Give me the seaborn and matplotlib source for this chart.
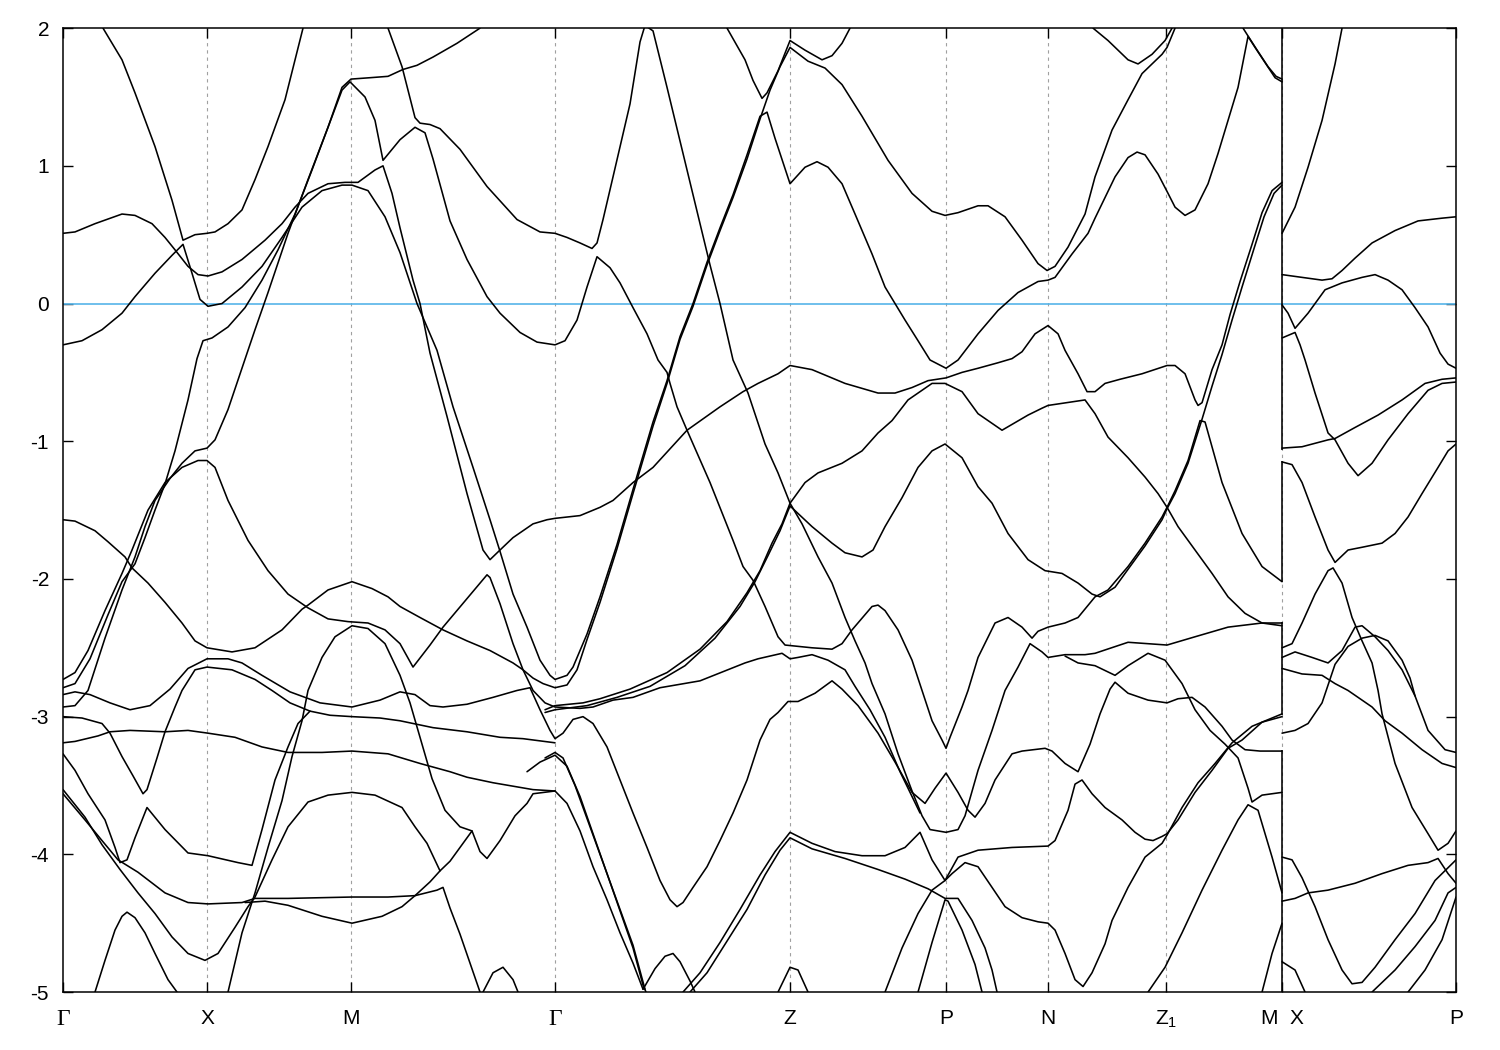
import matplotlib
matplotlib.use("Agg")
import matplotlib.pyplot as plt
import pandas as pd
import seaborn as sns

# ---------------- data ----------------
# k-path coordinate (arbitrary path units) of the high-symmetry points
k_ticks = [63, 207, 351, 555, 790, 946, 1048, 1166, 1282, 1456]
k_labels = ['Γ', 'X', 'M', 'Γ', 'Z', 'P', 'N', 'Z$_1$', 'M  X', 'P']
k_break = 1282
# energy spans of the band jumps drawn at the M|X discontinuity
break_jumps = [(2.0, -1.06), (-1.14, -2.02), (-2.31, -2.99), (-3.24, -5.0)]
e_ticks = [-5, -4, -3, -2, -1, 0, 1, 2]
fermi = 0.0

# bands as (k, E[eV]) pairs
band_01 = [(103,2.00),(122,1.77),(135,1.53),(155,1.14),(172,0.75),(183,0.46),(195,0.50),(207,0.51),(215,0.52),(228,0.58),(242,0.68),(255,0.90),(268,1.14),(285,1.48),(303,2.00)]
band_02 = [(63,0.51),(75,0.52),(95,0.58),(122,0.65),(135,0.64),(152,0.58),(165,0.48),(175,0.39),(188,0.27),(198,0.21),(208,0.20),(222,0.23),(242,0.32),(265,0.46),(282,0.58),(295,0.70),(308,0.80),(328,0.87),(345,0.88),(358,0.88),(375,0.97),(383,1.00),(392,0.80),(400,0.55),(413,0.17),(420,0.00),(430,-0.36),(447,-0.82),(467,-1.38),(483,-1.79),(490,-1.86),(500,-1.79),(513,-1.70),(533,-1.60),(547,-1.57),(555,-1.56),(580,-1.54),(600,-1.48),(613,-1.43),(633,-1.30),(653,-1.19),(687,-0.92),(720,-0.75),(743,-0.64),(758,-0.58),(778,-0.51),(790,-0.45),(812,-0.48),(845,-0.58),(878,-0.65),(895,-0.65),(912,-0.61),(928,-0.56),(946,-0.54),(962,-0.50),(978,-0.47),(998,-0.43),(1012,-0.40),(1022,-0.35),(1035,-0.22),(1048,-0.16),(1058,-0.22),(1065,-0.34),(1078,-0.51),(1087,-0.64),(1095,-0.64),(1105,-0.58),(1120,-0.55),(1142,-0.51),(1167,-0.45),(1175,-0.45),(1185,-0.51),(1195,-0.70),(1198,-0.74),(1202,-0.72),(1212,-0.48),(1222,-0.30),(1230,-0.08),(1240,0.16),(1252,0.43),(1262,0.66),(1272,0.82),(1282,0.88)]
band_03 = [(63,-0.30),(82,-0.27),(102,-0.19),(122,-0.07),(135,0.05),(155,0.22),(172,0.35),(183,0.43),(192,0.22),(200,0.03),(208,-0.02),(222,0.00),(242,0.12),(262,0.27),(282,0.48),(302,0.70),(322,0.82),(342,0.86),(352,0.86),(368,0.82),(385,0.63),(400,0.37),(417,0.00),(437,-0.34),(453,-0.75),(473,-1.19),(490,-1.57),(500,-1.80),(513,-2.11),(527,-2.35),(540,-2.59),(550,-2.70),(555,-2.73),(567,-2.70),(573,-2.64),(587,-2.40),(600,-2.13),(617,-1.75),(633,-1.35),(653,-0.86),(667,-0.56),(680,-0.24),(693,0.00),(707,0.30),(720,0.55),(733,0.79),(747,1.08),(760,1.36),(767,1.39),(775,1.20),(790,0.87),(805,0.99),(817,1.03),(828,0.99),(842,0.87),(855,0.65),(872,0.36),(885,0.12),(895,0.00),(905,-0.12),(918,-0.27),(930,-0.41),(946,-0.47),(958,-0.41),(978,-0.22),(998,-0.05),(1018,0.08),(1038,0.16),(1048,0.17),(1055,0.19),(1072,0.36),(1088,0.51),(1095,0.62),(1105,0.77),(1115,0.92),(1128,1.06),(1137,1.10),(1145,1.08),(1158,0.94),(1168,0.80),(1175,0.70),(1185,0.64),(1195,0.68),(1208,0.87),(1218,1.09),(1228,1.33),(1238,1.57),(1248,1.94),(1255,1.86),(1265,1.75),(1275,1.64),(1282,1.61)]
band_04 = [(63,-1.57),(75,-1.58),(95,-1.65),(108,-1.73),(125,-1.84),(132,-1.92),(148,-2.03),(165,-2.17),(182,-2.32),(195,-2.45),(207,-2.50),(232,-2.53),(255,-2.50),(282,-2.37),(302,-2.22),(308,-2.19),(328,-2.08),(352,-2.02),(372,-2.07),(388,-2.13),(400,-2.20),(420,-2.28),(443,-2.37),(467,-2.45),(490,-2.52),(513,-2.61),(523,-2.66),(533,-2.72),(543,-2.76),(555,-2.79),(567,-2.77),(577,-2.66),(587,-2.44),(600,-2.17),(617,-1.78),(633,-1.38),(653,-0.89),(667,-0.58),(680,-0.26),(693,-0.02),(707,0.28),(720,0.53),(733,0.77),(747,1.05),(760,1.34),(770,1.55),(780,1.72),(790,1.86),(808,1.76),(825,1.71),(842,1.59),(862,1.36),(888,1.04),(912,0.80),(932,0.67),(945,0.64),(958,0.66),(978,0.71),(988,0.71),(1005,0.63),(1022,0.46),(1038,0.29),(1047,0.24),(1055,0.27),(1068,0.41),(1085,0.65),(1095,0.92),(1105,1.12),(1112,1.26),(1128,1.48),(1142,1.67),(1162,1.81),(1167,1.86),(1175,2.00)]
band_05 = [(63,-2.79),(75,-2.76),(90,-2.58),(108,-2.26),(122,-2.02),(135,-1.89),(145,-1.70),(155,-1.50),(165,-1.31),(175,-1.07),(188,-0.70),(197,-0.40),(203,-0.27),(212,-0.25),(228,-0.17),(245,-0.03),(262,0.17),(278,0.39),(295,0.65),(312,0.97),(328,1.28),(342,1.57),(351,1.63),(370,1.64),(388,1.65),(403,1.70),(417,1.73),(433,1.79),(457,1.89),(480,2.00)]
band_06 = [(63,-2.93),(75,-2.92),(88,-2.81),(105,-2.43),(122,-2.08),(135,-1.84),(145,-1.62),(155,-1.43),(170,-1.27),(182,-1.16),(195,-1.07),(207,-1.05),(215,-0.99),(228,-0.77),(248,-0.34),(255,-0.19),(268,0.08),(288,0.51),(308,0.90),(328,1.28),(342,1.55),(350,1.61),(365,1.50),(375,1.33),(383,1.04),(400,1.19),(415,1.28),(425,1.24),(433,1.05),(450,0.60),(467,0.32),(487,0.05),(500,-0.07),(520,-0.21),(537,-0.28),(555,-0.30),(565,-0.27),(577,-0.12),(587,0.12),(597,0.34),(610,0.26),(620,0.15),(633,-0.03),(647,-0.22),(658,-0.41),(667,-0.50),(670,-0.58),(677,-0.75),(687,-0.92),(710,-1.30),(733,-1.72),(743,-1.91),(753,-2.01),(765,-2.20),(778,-2.42),(785,-2.48),(812,-2.50),(832,-2.51),(842,-2.47),(852,-2.37),(872,-2.20),(878,-2.19),(885,-2.23),(898,-2.37),(912,-2.59),(922,-2.81),(932,-3.03),(942,-3.17),(946,-3.23),(950,-3.15),(962,-2.93),(968,-2.81),(978,-2.57),(995,-2.32),(1008,-2.28),(1022,-2.35),(1032,-2.43),(1038,-2.38),(1048,-2.35),(1065,-2.32),(1078,-2.28),(1095,-2.13),(1108,-2.08),(1128,-1.91),(1145,-1.74),(1162,-1.55),(1167,-1.48),(1175,-1.36),(1188,-1.14),(1200,-0.85),(1205,-0.86),(1222,-1.30),(1242,-1.67),(1262,-1.91),(1282,-2.02)]
band_07 = [(388,2.00),(402,1.72),(415,1.35),(420,1.31),(430,1.30),(440,1.27),(460,1.12),(487,0.85),(517,0.61),(540,0.52),(555,0.51),(567,0.48),(580,0.44),(592,0.40),(597,0.44),(603,0.61),(613,0.92),(630,1.45),(640,1.90),(645,2.02),(653,1.98),(667,1.57),(683,1.09),(700,0.58),(710,0.28),(720,0.00),(733,-0.41),(748,-0.65),(765,-1.02),(778,-1.23),(790,-1.45),(802,-1.60),(818,-1.84),(832,-2.03),(845,-2.28),(855,-2.45),(865,-2.61),(872,-2.76),(885,-2.98),(898,-3.27),(912,-3.54),(922,-3.72),(930,-3.82),(946,-3.84),(958,-3.82),(965,-3.72),(978,-3.39),(992,-3.10),(1005,-2.81),(1018,-2.64),(1030,-2.47),(1042,-2.53),(1048,-2.57),(1065,-2.55),(1085,-2.55),(1095,-2.54),(1128,-2.46),(1167,-2.48),(1195,-2.42),(1228,-2.35),(1262,-2.32),(1282,-2.32)]
band_08 = [(727,2.00),(745,1.77),(753,1.62),(762,1.49),(767,1.53),(778,1.69),(790,1.91),(805,1.84),(822,1.77),(832,1.80),(842,1.89),(850,2.00)]
band_09 = [(1093,2.00),(1108,1.91),(1128,1.77),(1138,1.74),(1152,1.81),(1165,1.91),(1172,2.00)]
band_10 = [(1243,2.00),(1250,1.92),(1258,1.83),(1268,1.72),(1276,1.65),(1282,1.63)]
band_11 = [(63,-2.73),(75,-2.68),(88,-2.52),(105,-2.23),(122,-1.96),(132,-1.79),(148,-1.50),(165,-1.30),(182,-1.19),(198,-1.14),(207,-1.14),(215,-1.19),(228,-1.43),(248,-1.72),(268,-1.94),(288,-2.11),(308,-2.21),(328,-2.29),(348,-2.31),(368,-2.32),(385,-2.37),(400,-2.47),(413,-2.64),(430,-2.48),(443,-2.35),(465,-2.16),(487,-1.97),(490,-1.99),(500,-2.18),(513,-2.47),(523,-2.66),(533,-2.81),(545,-2.90),(555,-2.93),(580,-2.94),(593,-2.93),(613,-2.88),(633,-2.86),(660,-2.79),(700,-2.74),(745,-2.61),(758,-2.58),(782,-2.54),(790,-2.58),(798,-2.57),(812,-2.55),(828,-2.59),(845,-2.66),(855,-2.78),(870,-2.95),(885,-3.15),(900,-3.40),(912,-3.58),(920,-3.70)]
band_12 = [(63,-2.84),(75,-2.82),(90,-2.84),(110,-2.90),(130,-2.95),(150,-2.92),(170,-2.80),(188,-2.65),(207,-2.58),(228,-2.58),(242,-2.61),(262,-2.70),(290,-2.82),(320,-2.90),(352,-2.93),(380,-2.88),(400,-2.82),(415,-2.84),(430,-2.92),(443,-2.93),(467,-2.91),(493,-2.86),(517,-2.81),(530,-2.79),(540,-2.95),(550,-3.10),(555,-3.16),(563,-3.12),(573,-3.02),(583,-3.00),(593,-3.05),(607,-3.22),(620,-3.46),(633,-3.70),(647,-3.95),(660,-4.19),(670,-4.33),(677,-4.38),(683,-4.35),(693,-4.24),(707,-4.09),(720,-3.90),(733,-3.70),(747,-3.46),(760,-3.17),(770,-3.02),(778,-2.97),(788,-2.89),(798,-2.89),(815,-2.83),(832,-2.74),(842,-2.80),(858,-2.92),(878,-3.12),(895,-3.33),(912,-3.55),(925,-3.63),(935,-3.52),(946,-3.41),(958,-3.55),(968,-3.68),(975,-3.73),(985,-3.63),(995,-3.46),(1012,-3.27),(1022,-3.25),(1045,-3.23),(1052,-3.25),(1065,-3.34),(1078,-3.40),(1090,-3.20),(1100,-2.98),(1110,-2.80),(1115,-2.75),(1128,-2.83),(1148,-2.88),(1167,-2.90),(1178,-2.87),(1192,-2.86),(1205,-2.93),(1222,-3.07),(1232,-3.17),(1245,-3.24),(1260,-3.25),(1282,-3.25)]
band_13 = [(228,-5.00),(242,-4.57),(255,-4.28),(268,-3.95),(282,-3.61),(292,-3.29),(302,-3.03),(308,-2.81),(322,-2.57),(335,-2.42),(352,-2.34),(368,-2.36),(385,-2.47),(400,-2.70),(410,-2.90),(420,-3.15),(432,-3.45),(445,-3.68),(460,-3.80),(472,-3.83)]
band_14 = [(63,-3.00),(82,-3.01),(102,-3.05),(110,-3.12),(122,-3.29),(133,-3.43),(143,-3.56),(147,-3.53),(157,-3.30),(165,-3.11),(175,-2.93),(182,-2.81),(195,-2.66),(207,-2.64),(232,-2.66),(255,-2.73),(272,-2.81),(290,-2.90),(310,-2.96),(330,-2.99),(352,-3.00),(380,-3.01),(400,-3.03),(433,-3.08),(467,-3.11),(500,-3.15),(523,-3.16),(555,-3.19)]
band_15 = [(63,-3.19),(75,-3.18),(98,-3.14),(110,-3.11),(130,-3.10),(165,-3.11),(188,-3.10),(208,-3.12),(235,-3.15),(262,-3.22),(288,-3.26),(322,-3.26),(352,-3.25),(388,-3.27),(420,-3.34),(450,-3.40),(467,-3.44),(493,-3.48),(533,-3.53),(555,-3.54)]
band_16 = [(63,-3.27),(75,-3.39),(88,-3.56),(105,-3.75),(115,-3.95),(120,-4.06),(127,-4.04),(135,-3.88),(147,-3.66),(165,-3.82),(188,-3.99),(208,-4.01),(238,-4.06),(252,-4.08),(262,-3.82),(275,-3.46),(288,-3.22),(298,-3.05),(310,-2.96)]
band_17 = [(63,-3.53),(85,-3.73),(102,-3.93),(120,-4.11),(138,-4.28),(155,-4.43),(172,-4.60),(188,-4.72),(205,-4.77),(218,-4.72),(235,-4.53),(248,-4.38),(255,-4.31),(272,-4.04),(288,-3.80),(308,-3.62),(328,-3.57),(352,-3.55),(375,-3.57),(402,-3.66),(415,-3.80),(427,-3.92),(440,-4.12),(450,-4.05),(465,-3.90),(472,-3.83),(480,-3.98),(487,-4.03),(500,-3.90),(515,-3.72),(527,-3.63),(533,-3.56),(555,-3.54)]
band_18 = [(63,-3.56),(85,-3.75),(102,-3.90),(118,-4.04),(138,-4.13),(165,-4.28),(188,-4.35),(208,-4.36),(242,-4.35),(255,-4.32),(288,-4.32),(352,-4.31),(388,-4.31),(415,-4.30),(437,-4.26),(443,-4.24),(450,-4.39),(460,-4.58),(470,-4.79),(480,-5.00)]
band_19 = [(245,-4.35),(265,-4.34),(288,-4.37),(322,-4.45),(352,-4.50),(382,-4.45),(402,-4.38),(415,-4.30),(430,-4.20),(440,-4.12)]
band_20 = [(95,-5.00),(105,-4.77),(115,-4.55),(122,-4.45),(127,-4.42),(135,-4.46),(145,-4.57),(155,-4.72),(168,-4.91),(177,-5.00)]
band_21 = [(483,-5.00),(493,-4.86),(503,-4.82),(513,-4.91),(518,-5.00)]
band_22 = [(643,-4.98),(655,-4.83),(665,-4.74),(673,-4.72),(680,-4.78),(690,-4.92),(695,-5.00)]
band_23 = [(778,-5.00),(790,-4.82),(798,-4.84),(808,-5.00)]
band_24 = [(527,-3.40),(540,-3.33),(555,-3.28),(567,-3.36),(580,-3.58),(593,-3.85),(607,-4.14),(620,-4.41),(633,-4.68),(643,-4.95),(646,-5.00)]
band_25 = [(555,-3.54),(567,-3.63),(580,-3.83),(593,-4.09),(607,-4.33),(620,-4.57),(633,-4.79),(643,-4.98)]
band_26 = [(545,-3.30),(555,-3.26),(563,-3.30),(575,-3.50),(590,-3.80),(605,-4.10),(620,-4.40),(633,-4.66),(645,-4.98)]
band_27 = [(683,-5.00),(700,-4.86),(720,-4.64),(740,-4.40),(760,-4.15),(775,-3.98),(790,-3.84),(812,-3.92),(835,-3.98),(862,-4.01),(885,-4.01),(905,-3.95),(920,-3.84),(932,-4.04),(945,-4.19),(952,-4.14),(965,-4.06),(978,-4.09),(992,-4.24),(1005,-4.38),(1022,-4.46),(1038,-4.49),(1048,-4.50),(1055,-4.55),(1065,-4.72),(1075,-4.91),(1083,-4.96),(1092,-4.86),(1105,-4.65),(1112,-4.48),(1128,-4.24),(1145,-4.02),(1162,-3.92),(1167,-3.86),(1182,-3.66),(1198,-3.48),(1215,-3.34),(1232,-3.19),(1252,-3.07),(1272,-3.01),(1282,-2.98)]
band_28 = [(690,-5.00),(707,-4.86),(727,-4.63),(747,-4.40),(765,-4.15),(780,-3.97),(790,-3.88),(812,-3.96),(845,-4.03),(878,-4.11),(905,-4.18),(928,-4.25),(945,-4.32),(958,-4.32),(972,-4.48),(985,-4.68),(992,-4.84),(997,-5.00)]
band_29 = [(885,-5.00),(902,-4.68),(918,-4.43),(932,-4.26),(945,-4.19),(958,-4.02),(978,-3.97),(1012,-3.95),(1048,-3.94),(1055,-3.90),(1068,-3.68),(1075,-3.49),(1082,-3.46),(1092,-3.56),(1105,-3.66),(1122,-3.75),(1135,-3.84),(1145,-3.89),(1153,-3.90),(1162,-3.87),(1167,-3.85),(1178,-3.75),(1195,-3.55),(1212,-3.39),(1228,-3.23),(1242,-3.17),(1262,-3.04),(1282,-3.00)]
band_30 = [(918,-5.00),(932,-4.64),(945,-4.33),(948,-4.34),(962,-4.55),(975,-4.80),(982,-5.00)]
band_31 = [(1148,-5.00),(1165,-4.82),(1182,-4.57),(1202,-4.26),(1222,-3.97),(1238,-3.75),(1248,-3.64),(1258,-3.68),(1272,-4.02),(1282,-4.28)]
band_32 = [(1262,-5.00),(1272,-4.72),(1282,-4.50)]
band_33 = [(1065,-2.56),(1078,-2.61),(1095,-2.63),(1115,-2.70),(1128,-2.63),(1148,-2.54),(1165,-2.59),(1182,-2.76),(1195,-2.95),(1210,-3.10),(1225,-3.20),(1238,-3.30),(1248,-3.52),(1252,-3.62),(1262,-3.57),(1282,-3.55)]
band_34 = [(545,-2.95),(555,-2.92),(583,-2.90),(600,-2.87),(630,-2.80),(667,-2.68),(700,-2.51),(727,-2.31),(747,-2.10),(760,-1.94),(772,-1.74),(782,-1.60),(790,-1.45),(805,-1.30),(818,-1.23),(842,-1.16),(862,-1.07),(878,-0.94),(892,-0.85),(908,-0.70),(932,-0.58),(945,-0.58),(962,-0.64),(978,-0.80),(1002,-0.92),(1028,-0.81),(1042,-0.76),(1048,-0.74),(1085,-0.70),(1095,-0.80),(1108,-0.97),(1128,-1.12),(1145,-1.26),(1158,-1.38),(1167,-1.48),(1178,-1.62),(1195,-1.79),(1212,-1.96),(1228,-2.13),(1245,-2.25),(1262,-2.32),(1282,-2.34)]
band_35 = [(545,-2.97),(555,-2.95),(587,-2.92),(617,-2.86),(650,-2.78),(685,-2.63),(715,-2.43),(740,-2.20),(755,-2.02),(768,-1.83),(780,-1.65),(790,-1.47),(812,-1.62),(832,-1.74),(845,-1.81),(862,-1.84),(873,-1.79),(885,-1.62),(902,-1.41),(918,-1.19),(932,-1.07),(945,-1.02),(962,-1.12),(978,-1.33),(992,-1.45),(1008,-1.67),(1028,-1.86),(1045,-1.94),(1062,-1.96),(1078,-2.03),(1092,-2.11),(1100,-2.13),(1115,-2.06),(1128,-1.93),(1145,-1.76),(1162,-1.57),(1167,-1.49),(1175,-1.38),(1188,-1.16),(1202,-0.84),(1212,-0.60),(1222,-0.37),(1232,-0.12),(1242,0.12),(1254,0.40),(1264,0.63),(1274,0.80),(1282,0.86)]
# X -> P segment
band_r1 = [(1282,0.51),(1295,0.70),(1308,0.99),(1322,1.33),(1335,1.74),(1342,2.00)]
band_r2 = [(1282,0.21),(1302,0.19),(1322,0.17),(1332,0.18),(1342,0.24),(1355,0.33),(1372,0.44),(1395,0.53),(1418,0.60),(1442,0.62),(1456,0.63)]
band_r3 = [(1282,-0.01),(1288,-0.07),(1295,-0.18),(1308,-0.07),(1325,0.10),(1342,0.15),(1362,0.19),(1375,0.21),(1388,0.17),(1402,0.10),(1415,-0.03),(1428,-0.17),(1440,-0.36),(1448,-0.44),(1456,-0.47)]
band_r4 = [(1282,-0.25),(1295,-0.21),(1300,-0.30),(1305,-0.41),(1315,-0.65),(1328,-0.94),(1335,-0.99),(1348,-1.16),(1358,-1.25),(1372,-1.16),(1388,-0.99),(1408,-0.80),(1428,-0.63),(1442,-0.58),(1456,-0.57)]
band_r5 = [(1282,-1.05),(1302,-1.04),(1328,-0.99),(1335,-0.98),(1355,-0.90),(1378,-0.81),(1402,-0.70),(1425,-0.58),(1442,-0.55),(1456,-0.54)]
band_r6 = [(1282,-1.15),(1292,-1.17),(1302,-1.30),(1315,-1.55),(1328,-1.79),(1335,-1.88),(1348,-1.79),(1362,-1.77),(1382,-1.74),(1395,-1.67),(1408,-1.55),(1422,-1.38),(1438,-1.19),(1448,-1.07),(1456,-1.02)]
band_r7 = [(1282,-2.50),(1292,-2.47),(1302,-2.32),(1315,-2.11),(1328,-1.94),(1333,-1.92),(1342,-2.03),(1352,-2.28),(1362,-2.45),(1372,-2.61),(1378,-2.81),(1382,-2.98),(1395,-3.34),(1412,-3.66),(1428,-3.85),(1438,-3.97),(1448,-3.92),(1456,-3.83)]
band_r8 = [(1282,-2.57),(1295,-2.53),(1312,-2.57),(1328,-2.61),(1342,-2.52),(1355,-2.35),(1362,-2.34),(1375,-2.42),(1388,-2.52),(1402,-2.66),(1415,-2.85),(1428,-3.10),(1445,-3.24),(1456,-3.26)]
band_r9 = [(1282,-2.65),(1302,-2.69),(1322,-2.70),(1335,-2.76),(1348,-2.81),(1372,-2.93),(1385,-3.03),(1402,-3.12),(1422,-3.24),(1442,-3.34),(1456,-3.37)]
band_r10 = [(1282,-3.12),(1295,-3.10),(1308,-3.05),(1322,-2.90),(1335,-2.62),(1348,-2.49),(1362,-2.43),(1375,-2.41),(1388,-2.45),(1402,-2.59),(1410,-2.72),(1415,-2.85)]
band_r11 = [(1282,-4.02),(1292,-4.04),(1302,-4.17),(1315,-4.38),(1328,-4.62),(1342,-4.84),(1352,-4.94),(1362,-4.93),(1375,-4.82),(1395,-4.62),(1415,-4.43),(1435,-4.19),(1456,-4.04)]
band_r12 = [(1282,-4.34),(1295,-4.32),(1308,-4.28),(1328,-4.26),(1355,-4.21),(1382,-4.14),(1408,-4.08),(1428,-4.06),(1438,-4.03),(1448,-4.14),(1456,-4.21)]
band_r13 = [(1282,-4.78),(1295,-4.84),(1305,-5.00)]
band_r14 = [(1372,-5.00),(1395,-4.84),(1415,-4.67),(1435,-4.48),(1448,-4.28),(1456,-4.24)]
band_r15 = [(1408,-5.00),(1425,-4.84),(1442,-4.62),(1456,-4.31)]

bands = {
    'b01': band_01, 'b02': band_02, 'b03': band_03, 'b04': band_04, 'b05': band_05,
    'b06': band_06, 'b07': band_07, 'b08': band_08, 'b09': band_09, 'b10': band_10,
    'b11': band_11, 'b12': band_12, 'b13': band_13, 'b14': band_14, 'b15': band_15,
    'b16': band_16, 'b17': band_17, 'b18': band_18, 'b19': band_19, 'b20': band_20,
    'b21': band_21, 'b22': band_22, 'b23': band_23, 'b24': band_24, 'b25': band_25,
    'b26': band_26, 'b27': band_27, 'b28': band_28, 'b29': band_29, 'b30': band_30,
    'b31': band_31, 'b32': band_32, 'b33': band_33, 'b34': band_34, 'b35': band_35,
    'r01': band_r1, 'r02': band_r2, 'r03': band_r3, 'r04': band_r4, 'r05': band_r5,
    'r06': band_r6, 'r07': band_r7, 'r08': band_r8, 'r09': band_r9, 'r10': band_r10,
    'r11': band_r11, 'r12': band_r12, 'r13': band_r13, 'r14': band_r14, 'r15': band_r15,
}

# ---------------- build long table ----------------
rows = []
for name, pts in bands.items():
    for i, (k, e) in enumerate(pts):
        rows.append({'band': name, 'order': i, 'k': k, 'E': e})
df = pd.DataFrame(rows)

# ---------------- plot ----------------
sns.set_theme(style='white')
plt.rcParams['font.family'] = ['Liberation Sans', 'DejaVu Sans']
plt.rcParams['axes.unicode_minus'] = False
plt.rcParams['mathtext.fontset'] = 'custom'
plt.rcParams['mathtext.rm'] = 'Liberation Sans'

fig = plt.figure(figsize=(15, 10.5), dpi=100)
ax = fig.add_axes([0.042, 0.0552, 0.9287, 0.918])

# grid lines at the inner high-symmetry points
for kt in k_ticks[1:-1]:
    ax.axvline(kt, color='#a0a0a0', lw=0.8, ls=(0, (3, 3.5)), zorder=0)

# Fermi level
ax.axhline(fermi, color='#56b4e9', lw=1.2, zorder=1)

sns.lineplot(data=df, x='k', y='E', units='band', estimator=None, sort=False,
             color='black', lw=1.15, legend=False, ax=ax, zorder=2)

# jumps at the M|X discontinuity
for e_top, e_bot in break_jumps:
    ax.vlines(k_break, e_bot, e_top, color='black', lw=1.15, zorder=2)

ax.set_xlim(k_ticks[0], k_ticks[-1])
ax.set_ylim(min(e_ticks), max(e_ticks))
ax.set_xticks(k_ticks)
ax.set_xticklabels(k_labels)
ax.set_yticks(e_ticks)
ax.set_yticklabels([str(v) for v in e_ticks])
ax.set_xlabel('')
ax.set_ylabel('')

ax.tick_params(axis='both', which='major', direction='in', length=7.5, width=1.0,
               top=True, right=True, bottom=True, left=True, labelsize=15,
               colors='black')
ax.tick_params(axis='x', pad=12)
ax.tick_params(axis='y', pad=10)
for lab in ax.get_xticklabels():
    if lab.get_text() == 'Γ':
        lab.set_fontfamily(['Liberation Serif', 'DejaVu Serif'])
        lab.set_fontsize(17)
for sp in ax.spines.values():
    sp.set_visible(True)
    sp.set_color('black')
    sp.set_linewidth(1.1)

fig.savefig('out.png', dpi=100, facecolor='white')
